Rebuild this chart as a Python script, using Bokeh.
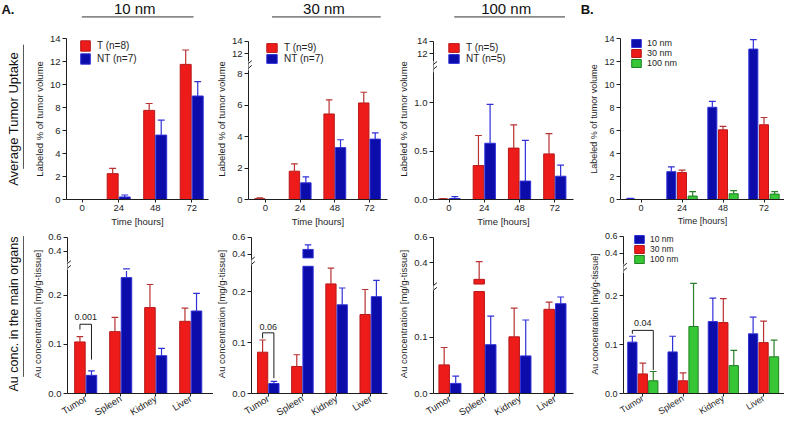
import math
from bokeh.plotting import figure
from bokeh.models import (Range1d, FixedTicker, ColumnDataSource, Legend, LegendItem,
                          BoxAnnotation, Arrow)
from bokeh.layouts import column, row
from bokeh.core.properties import value
from bokeh.embed import file_html
from bokeh.resources import INLINE

# ------------------------------------------------------------------ data
times = ["0", "24", "48", "72"]
organs = ["Tumor", "Spleen", "Kidney", "Liver"]

legend_10 = ["T (n=8)", "NT (n=7)"]
legend_30 = ["T (n=9)", "NT (n=7)"]
legend_100 = ["T (n=5)", "NT (n=5)"]
legend_B = ["10 nm", "30 nm", "100 nm"]

# Average tumor uptake (labeled % of tumor volume)
up10_T = [0.0, 2.25, 7.75, 11.75]
up10_T_err = [0.0, 0.45, 0.6, 1.25]
up10_NT = [0.0, 0.22, 5.6, 9.0]
up10_NT_err = [0.0, 0.17, 1.3, 1.25]
up30_T = [0.05, 1.8, 5.44, 6.14]
up30_T_err = [0.05, 0.46, 0.9, 0.68]
up30_NT = [0.0, 1.06, 3.3, 3.84]
up30_NT_err = [0.0, 0.38, 0.5, 0.4]
up100_T = [0.005, 0.35, 0.53, 0.47]
up100_T_err = [0.005, 0.31, 0.24, 0.21]
up100_NT = [0.01, 0.58, 0.19, 0.24]
up100_NT_err = [0.02, 0.40, 0.42, 0.115]
upB_10 = [0.05, 2.42, 8.02, 13.08]
upB_10_err = [0.05, 0.42, 0.52, 0.82]
upB_30 = [0.0, 2.34, 6.06, 6.5]
upB_30_err = [0.0, 0.22, 0.3, 0.63]
upB_100 = [0.0, 0.3, 0.5, 0.47]
upB_100_err = [0.0, 0.39, 0.27, 0.22]

# Au concentration in organs [mg/g tissue]
au10_T = [0.105, 0.126, 0.175, 0.147]
au10_T_err = [0.011, 0.029, 0.047, 0.027]
au10_NT = [0.037, 0.236, 0.077, 0.168]
au10_NT_err = [0.009, 0.018, 0.015, 0.036]
au30_T = [0.081, 0.053, 0.215, 0.155]
au30_T_err = [0.024, 0.023, 0.031, 0.049]
au30_NT = [0.0196, 0.456, 0.174, 0.19]
au30_NT_err = [0.004, 0.054, 0.033, 0.032]
au100_T = [0.051, 0.267, 0.101, 0.150]
au100_T_err = [0.031, 0.14, 0.051, 0.013]
au100_NT = [0.018, 0.087, 0.067, 0.160]
au100_NT_err = [0.013, 0.051, 0.064, 0.012]
auB_10 = [0.105, 0.085, 0.147, 0.122]
auB_10_err = [0.012, 0.032, 0.048, 0.034]
auB_30 = [0.040, 0.026, 0.145, 0.104]
auB_30_err = [0.022, 0.016, 0.049, 0.044]
auB_100 = [0.026, 0.137, 0.057, 0.075]
auB_100_err = [0.019, 0.088, 0.031, 0.034]

# significance brackets
sig_text = ["0.001", "0.06", "0.04"]
sig_top = [0.141, 0.119, 0.129]
sig_leg_left = [0.130, 0.108, 0.122]
sig_leg_right = [0.069, 0.030, 0.048]
sig_text_y = [0.156, 0.131, 0.144]

# ------------------------------------------------------------------ style
FONT = "Liberation Sans"
TXT = "#1e1e1e"
RED = dict(fill="#ee1b1b", line="#b81818", err="#b83232")
BLUE = dict(fill="#0c0caa", line="#3030d8", err="#3030d8")
GREEN = dict(fill="#36c636", line="#227f22", err="#2a7f2a")

SX = 784 / 800.0
SY = 425 / 441.0


def X(v):
    return int(round(v * SX))


def Y(v):
    return int(round(v * SY))


def base_fig(cell, frame, xr, yr):
    cx0, cx1, cy0, cy1 = cell
    fl, fr, ft, fb = frame
    p = figure(width=X(cx1) - X(cx0), height=Y(cy1) - Y(cy0),
               output_backend="svg", toolbar_location=None,
               x_range=Range1d(*xr), y_range=Range1d(*yr),
               min_border_left=X(fl) - X(cx0), min_border_right=X(cx1) - X(fr),
               min_border_top=Y(ft) - Y(cy0), min_border_bottom=Y(cy1) - Y(fb))
    p.outline_line_color = None
    p.xgrid.visible = False
    p.ygrid.visible = False
    p.background_fill_color = "white"
    p.border_fill_color = "white"
    return p


def style_axis(ax, fs):
    ax.axis_line_color = TXT
    ax.axis_line_width = 1
    ax.major_tick_line_color = TXT
    ax.major_tick_in = 0
    ax.major_tick_out = 4
    ax.minor_tick_line_color = None
    ax.major_label_text_font = FONT
    ax.major_label_text_font_size = fs
    ax.major_label_text_color = TXT
    ax.axis_label_text_font = FONT
    ax.axis_label_text_font_size = fs
    ax.axis_label_text_font_style = "normal"
    ax.axis_label_text_color = TXT
    ax.major_label_standoff = 2
    ax.axis_label_standoff = 2


def make_panel(cell, frame, xr, ycfg, cats, series, bw, offs, ylabel, xlabel,
               rotate, fs, leg=None, sig=None):
    fl, fr, ft, fb = frame
    H = float(fb - ft)
    xk = (fr - fl) / (xr[1] - xr[0])
    broken = ycfg.get("broken", False)
    if broken:
        lk = ycfg["lower_k"]
        lower_end = H / lk
        lower_vis = (fb - ycfg["lt"]) / lk
        uk = ycfg["upper_k"]
        up_end = ycfg["uref"][0] + (ycfg["uref"][1] - ft) / uk
        up_start = up_end - H / uk
        up_vis = up_end - (ycfg["ub"] - ft) / uk

        def disp(u):
            return round((u - up_start) / (up_end - up_start) * lower_end, 6)
        ticks = list(ycfg["lower_ticks"]) + [disp(u) for u in ycfg["upper_ticks"]]
        labels = [ycfg["fmt"](t) for t in ycfg["lower_ticks"]] + \
                 [ycfg["fmt_up"](u) for u in ycfg["upper_ticks"]]
    else:
        lower_end = ycfg["end"]
        lower_vis = lower_end
        up_vis = None
        ticks = list(ycfg["ticks"])
        labels = [ycfg["fmt"](t) for t in ticks]

    p = base_fig(cell, frame, xr, (0, lower_end))
    if broken:
        p.extra_y_ranges = {"up": Range1d(up_start, up_end)}
    k_eff = H / lower_end

    def ly(px):
        return (fb - px) / k_eff

    cw = 3.5 / xk
    rends = []
    for (vals, errs, col, lab), off in zip(series, offs):
        xs = [i + off for i in range(len(cats))]
        src = ColumnDataSource(dict(x=xs, top=[min(v, lower_vis) for v in vals]))
        r = p.vbar(x="x", top="top", bottom=0, width=bw, source=src,
                   fill_color=col["fill"], line_color=col["line"], line_width=1)
        rends.append((lab, r))
        if broken:
            ux = [x for x, v in zip(xs, vals) if v > up_vis]
            ut = [v for v in vals if v > up_vis]
            if ux:
                p.vbar(x=ux, top=ut, bottom=up_vis, width=bw, y_range_name="up",
                       fill_color=col["fill"], line_color=col["line"], line_width=1)
        lo = dict(x0=[], y0=[], x1=[], y1=[])
        hi = dict(x0=[], y0=[], x1=[], y1=[])

        def add(d, a, b, c, e):
            d["x0"].append(a); d["y0"].append(b); d["x1"].append(c); d["y1"].append(e)
        for x, v, e in zip(xs, vals, errs):
            if e <= 0:
                continue
            t = v + e
            if not broken:
                add(lo, x, v, x, t)
                add(lo, x - cw, t, x + cw, t)
            else:
                if v < lower_vis:
                    add(lo, x, v, x, min(t, lower_vis))
                if t > up_vis:
                    add(hi, x, max(v, up_vis), x, t)
                    add(hi, x - cw, t, x + cw, t)
                else:
                    add(lo, x - cw, t, x + cw, t)
        p.segment(x0="x0", y0="y0", x1="x1", y1="y1", source=ColumnDataSource(lo),
                  line_color=col["err"], line_width=1.2)
        if hi["x0"]:
            p.segment(x0="x0", y0="y0", x1="x1", y1="y1", source=ColumnDataSource(hi),
                      line_color=col["err"], line_width=1.2, y_range_name="up")

    yax = p.yaxis[0]
    style_axis(yax, fs)
    yax.ticker = FixedTicker(ticks=ticks, minor_ticks=[])
    yax.major_label_overrides = {t: l for t, l in zip(ticks, labels)}
    yax.bounds = (0, max(ticks))
    yax.axis_label = ylabel
    xax = p.xaxis[0]
    style_axis(xax, fs)
    xax.ticker = FixedTicker(ticks=list(range(len(cats))), minor_ticks=[])
    xax.major_label_overrides = {i: c for i, c in enumerate(cats)}
    xax.major_tick_out = 3
    if xlabel:
        xax.axis_label = xlabel
    if rotate:
        xax.major_label_orientation = 0.55
        xax.major_label_standoff = 1

    if broken:
        ub, lt = ycfg["ub"], ycfg["lt"]
        x0 = xr[0]
        p.add_layout(BoxAnnotation(left=x0 - 6 / xk, right=x0 + 1.0 / xk,
                                   top=ly(ub + 1), bottom=ly(lt - 1),
                                   fill_color="white", fill_alpha=1.0,
                                   line_color=None))
        mid = (ub + lt) / 2.0
        for dy in (-2.5, 2.5):
            yc = mid + dy
            p.add_layout(Arrow(end=None, x_start=x0 - 3.5 / xk, y_start=ly(yc + 3),
                               x_end=x0 + 3.5 / xk, y_end=ly(yc - 3),
                               line_color=TXT, line_width=1))

    if leg is not None:
        left, top, pitch, gw, standoff, lfs = leg
        ph = int(round(pitch * SY))
        n = len(rends)
        vx = X(left) - X(fl)
        vy = Y(fb) - Y(top) - n * ph
        items = [LegendItem(label=lab, renderers=[r]) for lab, r in rends]
        L = Legend(items=items, location=(vx, vy), padding=0, margin=0, spacing=0,
                   glyph_width=int(round(gw * SX)), glyph_height=ph, label_height=ph,
                   label_width=10, label_standoff=standoff,
                   label_text_font=FONT, label_text_font_size=lfs,
                   label_text_color=TXT, border_line_color=None,
                   background_fill_alpha=0)
        p.add_layout(L)

    if sig is not None:
        i, xl, xr_, = sig["i"], sig["xl"], sig["xr"]
        p.line(x=[xl, xl, xr_, xr_],
               y=[sig_leg_left[i], sig_top[i], sig_top[i], sig_leg_right[i]],
               line_color=TXT, line_width=1)
        p.text(x=[(xl + xr_) / 2.0], y=[sig_text_y[i]], text=[sig_text[i]],
               text_align="center", text_baseline="middle",
               text_font=value(FONT), text_font_size="9px", text_color=TXT)
    return p


def fmt_int(t):
    return "%d" % round(t)


def fmt_1(t):
    return "%.1f" % t


A_OFF = [-0.165, 0.165]
B_OFF = [-0.26, 0.0, 0.26]
STRIP_W = 30

# ------------------------------------------------------------------ top row
TOP = (30, 240)
c1t = make_panel((STRIP_W, 216) + TOP, (67, 212, 39, 207), (-0.43, 3.46),
                 dict(end=14, ticks=[0, 2, 4, 6, 8, 10, 12, 14], fmt=fmt_int),
                 times, [(up10_T, up10_T_err, RED, legend_10[0]),
                         (up10_NT, up10_NT_err, BLUE, legend_10[1])],
                 0.3, A_OFF, "Labeled % of tumor volume", "Time [hours]", False,
                 "9.5px", leg=(81, 40.5, 13, 12, 6, "10px"))
c2t = make_panel((216, 402) + TOP, (248, 395, 37, 208), (-0.49, 3.52),
                 dict(broken=True, lower_k=16.7, lt=72, uref=(14, 40), upper_k=6.5,
                      ub=60, lower_ticks=[0, 2, 4, 6, 8], upper_ticks=[12, 14],
                      fmt=fmt_int, fmt_up=fmt_int),
                 times, [(up30_T, up30_T_err, RED, legend_30[0]),
                         (up30_NT, up30_NT_err, BLUE, legend_30[1])],
                 0.3, A_OFF, "Labeled % of tumor volume", "Time [hours]", False,
                 "9.5px", leg=(265, 45, 11.5, 13, 6, "10px"))
c3t = make_panel((402, 598) + TOP, (442, 585, 37, 208), (-0.44, 3.53),
                 dict(broken=True, lower_k=103, lt=74, uref=(14, 40), upper_k=6.5,
                      ub=60, lower_ticks=[0, 0.5, 1.0], upper_ticks=[12, 14],
                      fmt=fmt_1, fmt_up=fmt_int),
                 times, [(up100_T, up100_T_err, RED, legend_100[0]),
                         (up100_NT, up100_NT_err, BLUE, legend_100[1])],
                 0.3, A_OFF, "Labeled % of tumor volume", "Time [hours]", False,
                 "9.5px", leg=(456, 45, 11, 13, 6, "10px"))
c4t = make_panel((598, 800) + TOP, (632, 800, 38, 208), (-0.5, 3.5),
                 dict(end=14, ticks=[0, 2, 4, 6, 8, 10, 12, 14], fmt=fmt_int),
                 times, [(upB_10, upB_10_err, BLUE, legend_B[0]),
                         (upB_30, upB_30_err, RED, legend_B[1]),
                         (upB_100, upB_100_err, GREEN, legend_B[2])],
                 0.22, B_OFF, "Labeled % of tumor volume", "Time [hours]", False,
                 "9px", leg=(642, 40, 10.7, 12, 5, "9px"))

# ------------------------------------------------------------------ bottom row
BOT = (240, 441)
c1b = make_panel((STRIP_W, 217) + BOT, (64, 217, 243, 413), (-0.52, 3.65),
                 dict(broken=True, lower_k=525, lt=282, uref=(0.6, 246), upper_k=75,
                      ub=271, lower_ticks=[0, 0.1, 0.2], upper_ticks=[0.4, 0.6],
                      fmt=fmt_1, fmt_up=fmt_1),
                 organs, [(au10_T, au10_T_err, RED, "T"),
                          (au10_NT, au10_NT_err, BLUE, "NT")],
                 0.3, A_OFF, "Au concentration [mg/g-tissue]", None, True, "9.5px",
                 sig=dict(i=0, xl=A_OFF[0], xr=A_OFF[1]))
c2b = make_panel((217, 403) + BOT, (248, 395, 243, 413), (-0.49, 3.49),
                 dict(broken=True, lower_k=545, lt=277, uref=(0.6, 246), upper_k=90,
                      ub=268, lower_ticks=[0, 0.1, 0.2], upper_ticks=[0.4, 0.6],
                      fmt=fmt_1, fmt_up=fmt_1),
                 organs, [(au30_T, au30_T_err, RED, "T"),
                          (au30_NT, au30_NT_err, BLUE, "NT")],
                 0.3, A_OFF, "Au concentration [mg/g-tissue]", None, True, "9.5px",
                 sig=dict(i=1, xl=A_OFF[0], xr=A_OFF[1]))
c3b = make_panel((403, 598) + BOT, (441, 585, 243, 413), (-0.47, 3.53),
                 dict(broken=True, lower_k=600, lt=304, uref=(0.6, 246), upper_k=135,
                      ub=296, lower_ticks=[0, 0.1], upper_ticks=[0.4, 0.6],
                      fmt=fmt_1, fmt_up=fmt_1),
                 organs, [(au100_T, au100_T_err, RED, "T"),
                          (au100_NT, au100_NT_err, BLUE, "NT")],
                 0.3, A_OFF, "Au concentration [mg/g-tissue]", None, True, "9.5px")
c4b = make_panel((598, 800) + BOT, (632, 800, 243, 412), (-0.48, 3.52),
                 dict(broken=True, lower_k=520, lt=285, uref=(0.6, 245), upper_k=90,
                      ub=273, lower_ticks=[0, 0.1, 0.2], upper_ticks=[0.4, 0.6],
                      fmt=fmt_1, fmt_up=fmt_1),
                 organs, [(auB_10, auB_10_err, BLUE, legend_B[0]),
                          (auB_30, auB_30_err, RED, legend_B[1]),
                          (auB_100, auB_100_err, GREEN, legend_B[2])],
                 0.23, B_OFF, "Au concentration [mg/g-tissue]", None, True, "9px",
                 leg=(642, 247, 10.5, 12, 5, "8.5px"),
                 sig=dict(i=2, xl=B_OFF[0], xr=B_OFF[2]))


# ------------------------------------------------------------------ header & side strips
def blank(w, h, xr, yr):
    p = figure(width=w, height=h, output_backend="svg", toolbar_location=None,
               x_range=Range1d(*xr), y_range=Range1d(*yr),
               x_axis_location=None, y_axis_location=None,
               min_border=0, min_border_left=0, min_border_right=0,
               min_border_top=0, min_border_bottom=0)
    p.outline_line_color = None
    p.xgrid.visible = False
    p.ygrid.visible = False
    p.background_fill_color = "white"
    p.border_fill_color = "white"
    return p


header = blank(X(800), Y(30), (0, 800), (30, 0))
header.text(x=[1, 592], y=[9, 9], text=["A.", "B."], text_align="left",
            text_baseline="middle", text_font=value(FONT), text_font_size="13px",
            text_font_style="bold", text_color="#111111")
header.text(x=[137, 330, 516], y=[8, 8, 8], text=["10 nm", "30 nm", "100 nm"],
            text_align="center", text_baseline="middle", text_font=value(FONT),
            text_font_size="15px", text_color="#111111")
header.segment(x0=[83, 277, 463], y0=[17, 17, 17], x1=[197, 388, 576], y1=[17, 17, 17],
               line_color="#333333", line_width=1)


def strip(cy0, cy1, label, text_lo, text_hi, line_lo, line_hi, fs):
    # side title = label of a tick-less, line-less axis; the vertical rule is a
    # segment inside the narrow frame at the right of the strip
    p = figure(width=X(STRIP_W), height=Y(cy1) - Y(cy0), output_backend="svg",
               toolbar_location=None, x_range=Range1d(0, 1),
               y_range=Range1d(-cy1, -cy0), x_axis_location=None,
               min_border_left=20, min_border_right=0,
               min_border_top=0, min_border_bottom=0)
    p.outline_line_color = None
    p.xgrid.visible = False
    p.ygrid.visible = False
    p.background_fill_color = "white"
    p.border_fill_color = "white"
    ax = p.yaxis[0]
    ax.ticker = FixedTicker(ticks=[], minor_ticks=[])
    ax.major_tick_out = 0
    ax.major_tick_in = 0
    ax.major_label_text_font_size = "0px"
    ax.major_label_standoff = 0
    ax.axis_line_color = None
    ax.bounds = (-text_lo, -text_hi)
    ax.axis_label = label
    ax.axis_label_text_font = FONT
    ax.axis_label_text_font_size = fs
    ax.axis_label_text_font_style = "normal"
    ax.axis_label_text_color = "#111111"
    ax.axis_label_standoff = 0
    p.segment(x0=[0.33], y0=[-line_lo], x1=[0.33], y1=[-line_hi],
              line_color="#555555", line_width=1)
    return p


strip_t = strip(30, 240, "Average Tumor Uptake", 192, 62, 200, 38, "13px")
strip_b = strip(240, 441, "Au conc. in the main organs", 408, 245, 420, 242, "12.5px")

layout = column(header,
                row(strip_t, c1t, c2t, c3t, c4t, spacing=0),
                row(strip_b, c1b, c2b, c3b, c4b, spacing=0),
                spacing=0)

open("out.html", "w").write(file_html(layout, INLINE))
